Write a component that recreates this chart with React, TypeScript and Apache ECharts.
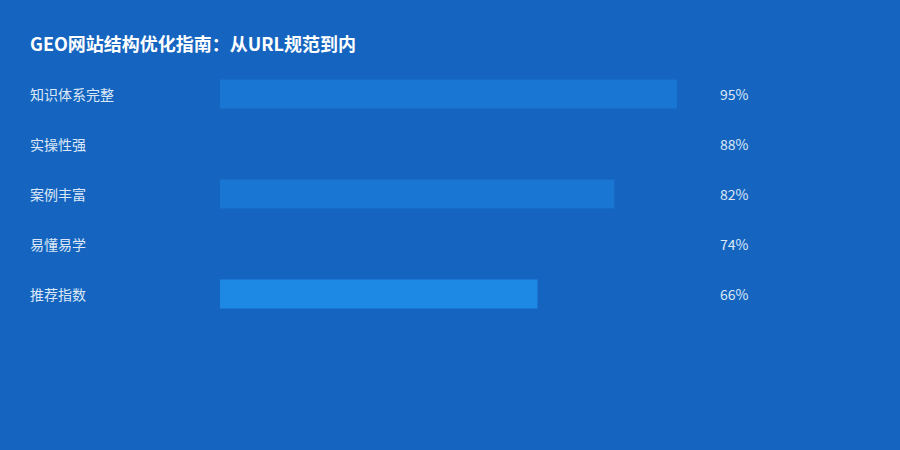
import React, { useEffect, useRef } from "react";
import * as echarts from "echarts";

const categories = ["知识体系完整", "实操性强", "案例丰富", "易懂易学", "推荐指数"];
const values = [95, 88, 82, 74, 66];
const barColors = ["#1976D2", "#1565C0", "#1976D2", "#1565C0", "#1E88E5"];
const valueLabels = values.map((v) => `${v}%`);

const FONT = "'Noto Sans CJK SC', 'Noto Sans', sans-serif";

const App = () => {
  const chartRef = useRef<HTMLDivElement>(null);

  useEffect(() => {
    if (!chartRef.current) return;
    const chart = echarts.init(chartRef.current, null, { renderer: "svg" });
    chart.setOption({
      animation: false,
      backgroundColor: "#1565C0",
      textStyle: { fontFamily: FONT },
      title: {
        text: "GEO网站结构优化指南：从URL规范到内",
        left: 30,
        top: 34,
        padding: 0,
        textStyle: { color: "#FFFFFF", fontSize: 18, fontWeight: "bold", fontFamily: FONT },
      },
      grid: { left: 220, right: 199, top: 69, bottom: 131 },
      xAxis: {
        type: "value",
        min: 0,
        max: 100,
        show: false,
      },
      yAxis: [
        {
          type: "category",
          data: categories,
          inverse: true,
          axisLine: { show: false },
          axisTick: { show: false },
          splitLine: { show: false },
          axisLabel: {
            align: "left",
            margin: 190,
            color: "#DCE8F7",
            fontSize: 14,
            fontFamily: FONT,
          },
        },
        {
          type: "category",
          data: valueLabels,
          inverse: true,
          position: "right",
          axisLine: { show: false },
          axisTick: { show: false },
          splitLine: { show: false },
          axisLabel: {
            align: "left",
            margin: 19,
            color: "#DCE8F7",
            fontSize: 14,
            fontFamily: FONT,
          },
        },
      ],
      series: [
        {
          type: "bar",
          yAxisIndex: 0,
          barWidth: 29,
          data: values.map((v, i) => ({ value: v, itemStyle: { color: barColors[i] } })),
        },
      ],
    });
    return () => {
      chart.dispose();
    };
  }, []);

  return (
    <div
      ref={chartRef}
      style={{ position: "fixed", left: 0, top: 0, width: "900px", height: "450px" }}
    />
  );
};

export default App;
